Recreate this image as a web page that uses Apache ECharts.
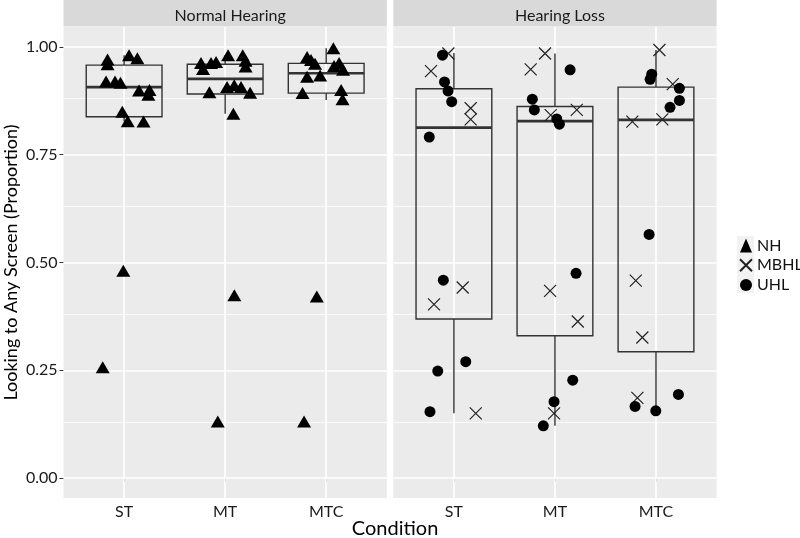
<!DOCTYPE html>
<html>
<head>
<meta charset="utf-8">
<script src="https://cdn.jsdelivr.net/npm/echarts@6/dist/echarts.min.js"></script>
<style>html,body{margin:0;padding:0;background:#fff;}#c{width:800px;height:538px;}</style>
</head>
<body>
<div id="c"></div>
<script>
const categories = ['ST', 'MT', 'MTC'];
const panels = ['Normal Hearing', 'Hearing Loss'];
const yTicks = [0, 0.25, 0.5, 0.75, 1];
const yMinor = [0.125, 0.375, 0.625, 0.875];

// [jittered condition position, proportion]
const nhPoints = [
  [0.836, 0.971], [0.836, 0.960], [1.049, 0.981], [1.131, 0.974], [0.821, 0.920],
  [0.910, 0.920], [0.964, 0.917], [1.148, 0.899], [1.251, 0.900], [1.240, 0.889],
  [0.982, 0.850], [1.036, 0.828], [1.192, 0.827], [0.992, 0.481], [0.788, 0.257],
  [1.761, 0.963], [1.781, 0.949], [1.860, 0.963], [1.910, 0.965], [2.029, 0.981],
  [2.174, 0.981], [2.202, 0.968], [2.202, 0.955], [1.844, 0.895], [2.019, 0.907],
  [2.090, 0.911], [2.157, 0.907], [2.247, 0.894], [2.081, 0.845], [2.091, 0.424],
  [1.927, 0.131],
  [3.071, 0.997], [2.811, 0.977], [2.850, 0.970], [2.890, 0.961], [3.078, 0.956],
  [3.128, 0.963], [3.167, 0.947], [2.811, 0.931], [2.940, 0.934], [2.766, 0.893],
  [3.148, 0.900], [3.162, 0.879], [2.907, 0.421], [2.781, 0.131]
];
const mbhlPoints = [
  [0.945, 0.985], [0.773, 0.944], [1.166, 0.858], [1.166, 0.832], [1.087, 0.442],
  [0.803, 0.403], [1.216, 0.150],
  [1.902, 0.985], [1.760, 0.948], [1.958, 0.842], [2.216, 0.854], [1.952, 0.434],
  [2.226, 0.363], [1.991, 0.150],
  [3.034, 0.993], [3.166, 0.914], [2.766, 0.827], [3.063, 0.832], [2.800, 0.458],
  [2.865, 0.326], [2.816, 0.186]
];
const uhlPoints = [
  [0.887, 0.981], [0.907, 0.919], [0.942, 0.898], [0.978, 0.873], [0.756, 0.791],
  [0.895, 0.459], [1.117, 0.270], [0.840, 0.248], [0.763, 0.154],
  [2.150, 0.947], [1.776, 0.879], [1.796, 0.854], [2.018, 0.833], [2.044, 0.821],
  [2.209, 0.475], [2.176, 0.227], [1.991, 0.177], [1.885, 0.121],
  [2.958, 0.937], [2.942, 0.925], [3.232, 0.904], [3.232, 0.876], [3.139, 0.860],
  [2.932, 0.565], [3.222, 0.194], [2.793, 0.166], [2.998, 0.156]
];
// [condition, lower whisker, Q1, median, Q3, upper whisker]
const nhBoxes = [
  [1, 0.827, 0.838, 0.907, 0.958, 0.981],
  [2, 0.845, 0.891, 0.926, 0.960, 0.981],
  [3, 0.877, 0.893, 0.939, 0.962, 0.997]
];
const hlBoxes = [
  [1, 0.150, 0.369, 0.813, 0.903, 0.986],
  [2, 0.121, 0.330, 0.828, 0.862, 0.985],
  [3, 0.156, 0.293, 0.831, 0.907, 0.993]
];

const FONT = 'Lato';
const PANEL_TOP = 27, PANEL_H = 471, PANEL_W = 323.3;
const PANEL_LEFT = [63.5, 393.3];
const STRIP_H = 26.5;
const BOX_COLOR = '#333333';

function renderBox(params, api) {
  const x = api.value(0);
  const w = api.size([0.75, 0])[0];
  const pMin = api.coord([x, api.value(1)]);
  const pQ1 = api.coord([x, api.value(2)]);
  const pMed = api.coord([x, api.value(3)]);
  const pQ3 = api.coord([x, api.value(4)]);
  const pMax = api.coord([x, api.value(5)]);
  const cx = pMed[0];
  return {
    type: 'group',
    children: [
      { type: 'line', shape: { x1: cx, y1: pQ3[1], x2: cx, y2: pMax[1] }, style: { stroke: BOX_COLOR, lineWidth: 1.4 } },
      { type: 'line', shape: { x1: cx, y1: pQ1[1], x2: cx, y2: pMin[1] }, style: { stroke: BOX_COLOR, lineWidth: 1.4 } },
      { type: 'rect', shape: { x: cx - w / 2, y: pQ3[1], width: w, height: pQ1[1] - pQ3[1] }, style: { stroke: BOX_COLOR, lineWidth: 1.4, fill: 'none' } },
      { type: 'line', shape: { x1: cx - w / 2, y1: pMed[1], x2: cx + w / 2, y2: pMed[1] }, style: { stroke: BOX_COLOR, lineWidth: 2.6 } }
    ]
  };
}

function gridLineSeries(idx) {
  const data = [];
  yTicks.forEach(v => data.push({ yAxis: v, lineStyle: { width: 1.7 } }));
  yMinor.forEach(v => data.push({ yAxis: v, lineStyle: { width: 0.8 } }));
  [1, 2, 3].forEach(v => data.push({ xAxis: v, lineStyle: { width: 1.7 } }));
  return {
    type: 'scatter', xAxisIndex: idx, yAxisIndex: idx, data: [], z: 1, silent: true,
    markLine: {
      z: 1, silent: true, symbol: 'none', label: { show: false }, animation: false,
      lineStyle: { color: '#ffffff', type: 'solid' },
      data: data
    }
  };
}

const chart = echarts.init(document.getElementById('c'), null, { renderer: 'canvas' });

const xAxes = [0, 1].map(i => ({
  type: 'value', gridIndex: i, min: 0.4, max: 3.6,
  axisLine: { show: false },
  splitLine: { show: false },
  axisTick: { show: true, customValues: [1, 2, 3], length: 4, lineStyle: { color: '#333', width: 1 } },
  axisLabel: {
    customValues: [1, 2, 3], margin: 6,
    formatter: v => categories[Math.round(v) - 1],
    fontFamily: FONT, fontSize: 16, color: '#1a1a1a'
  }
}));

const yAxes = [0, 1].map(i => ({
  type: 'value', gridIndex: i, min: -0.0464, max: 1.0464,
  axisLine: { show: false },
  splitLine: { show: false },
  axisTick: { show: i === 0, customValues: yTicks, length: 4, lineStyle: { color: '#333', width: 1 } },
  axisLabel: {
    show: i === 0, customValues: yTicks, margin: 6,
    formatter: v => v.toFixed(2),
    fontFamily: FONT, fontSize: 16, color: '#1a1a1a'
  },
  name: i === 0 ? 'Looking to Any Screen (Proportion)' : '',
  nameLocation: 'middle', nameGap: 43,
  nameTextStyle: { fontFamily: FONT, fontSize: 18, color: '#000' }
}));

const option = {
  animation: false,
  backgroundColor: '#ffffff',
  grid: [0, 1].map(i => ({
    left: PANEL_LEFT[i], top: PANEL_TOP, width: PANEL_W, height: PANEL_H,
    show: true, backgroundColor: '#ebebeb', borderWidth: 0, containLabel: false
  })),
  xAxis: xAxes,
  yAxis: yAxes,
  graphic: [
    { type: 'rect', shape: { x: PANEL_LEFT[0], y: 0, width: PANEL_W, height: STRIP_H }, style: { fill: '#d9d9d9' }, z: 0 },
    { type: 'rect', shape: { x: PANEL_LEFT[1], y: 0, width: PANEL_W, height: STRIP_H }, style: { fill: '#d9d9d9' }, z: 0 },
    { type: 'rect', shape: { x: 737, y: 236, width: 17, height: 57 }, style: { fill: '#f2f2f2' }, z: 0 }
  ],
  title: [
    { text: panels[0], left: PANEL_LEFT[0] + PANEL_W / 2, top: 3, textAlign: 'center', textStyle: { fontFamily: FONT, fontSize: 16, fontWeight: 'normal', color: '#1a1a1a' } },
    { text: panels[1], left: PANEL_LEFT[1] + PANEL_W / 2, top: 3, textAlign: 'center', textStyle: { fontFamily: FONT, fontSize: 16, fontWeight: 'normal', color: '#1a1a1a' } },
    { text: 'Condition', left: (PANEL_LEFT[0] + PANEL_LEFT[1] + PANEL_W) / 2, top: 514, textAlign: 'center', textStyle: { fontFamily: FONT, fontSize: 20, fontWeight: 'normal', color: '#000' } }
  ],
  legend: {
    orient: 'vertical', left: 739, top: 236, padding: 0, itemWidth: 12, itemHeight: 14, itemGap: 0.7,
    data: ['NH', 'MBHL', 'UHL'],
    textStyle: { fontFamily: FONT, fontSize: 16, lineHeight: 19, color: '#111' }
  },
  series: [
    gridLineSeries(0),
    gridLineSeries(1),
    {
      type: 'custom', name: 'box-nh', xAxisIndex: 0, yAxisIndex: 0, z: 2,
      renderItem: renderBox, encode: { x: 0, y: [1, 2, 3, 4, 5] }, data: nhBoxes, silent: true
    },
    {
      type: 'custom', name: 'box-hl', xAxisIndex: 1, yAxisIndex: 1, z: 2,
      renderItem: renderBox, encode: { x: 0, y: [1, 2, 3, 4, 5] }, data: hlBoxes, silent: true
    },
    {
      type: 'scatter', name: 'NH', xAxisIndex: 0, yAxisIndex: 0, z: 3,
      symbol: 'triangle', symbolSize: [14, 12],
      itemStyle: { color: '#000', opacity: 1 }, data: nhPoints
    },
    {
      type: 'scatter', name: 'MBHL', xAxisIndex: 1, yAxisIndex: 1, z: 3,
      symbol: 'path://M0,0L10,10M10,0L0,10', symbolSize: 12,
      itemStyle: { color: 'rgba(0,0,0,0)', borderColor: '#222', borderWidth: 1.2, opacity: 1 }, data: mbhlPoints
    },
    {
      type: 'scatter', name: 'UHL', xAxisIndex: 1, yAxisIndex: 1, z: 3,
      symbol: 'circle', symbolSize: 11,
      itemStyle: { color: '#000', opacity: 1 }, data: uhlPoints
    }
  ]
};
chart.setOption(option);
</script>
</body>
</html>
